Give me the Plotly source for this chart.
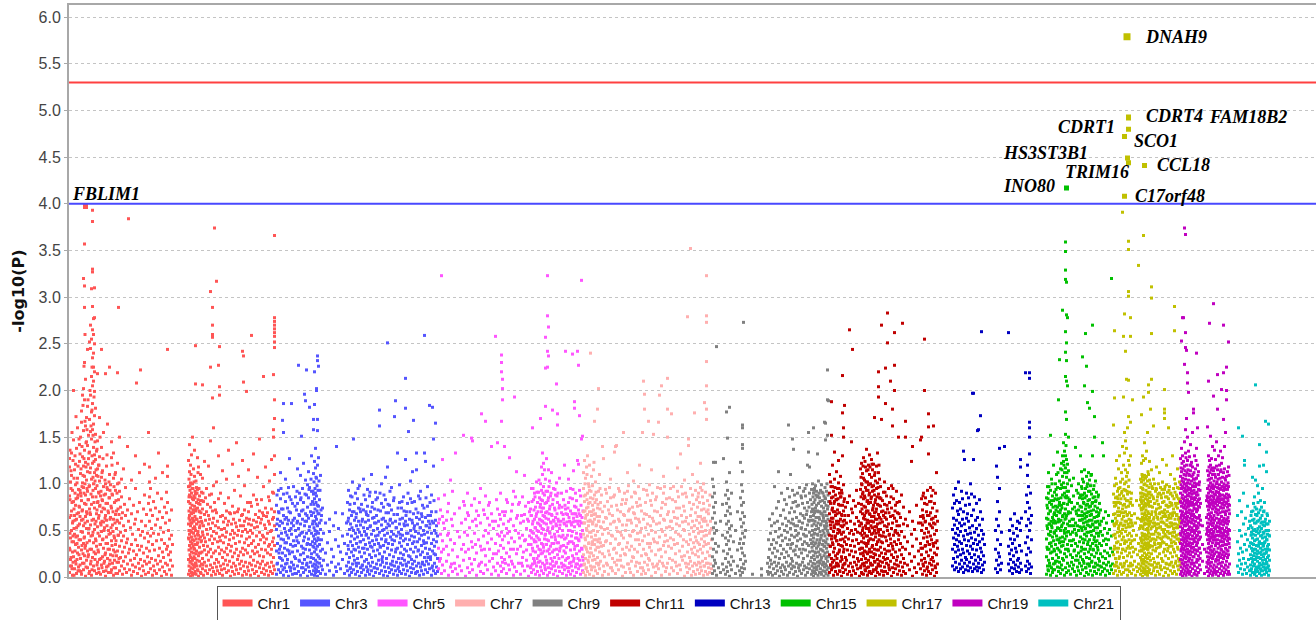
import plotly.graph_objects as go

# Genome-wide association scan: cumulative position (Mb) and -log10(P) per SNP,
# grouped per chromosome pair as (position, [-log10(P) values at that position]).
chr1 = [
    (0, [.05, .31, .64, .87, 1.18, 1.27]), (2, [.19, .42, 1.02]), (4, [.12, .5, .71, 1.09, 1.33]),
    (6, [.02, .27, .58, .93]), (8, [.22, .38, .81, 1.47, 2.0]), (10, [.09, .46, .66, 1.15]),
    (12, [.17, .35, .77, .99, 1.21]), (14, [.04, .53, .62, 1.38]), (16, [.26, .44, .85, 1.06, 1.6]),
    (18, [.11, .32, .69, .94]), (20, [.07, .57, .75, 1.24, 1.42]), (22, [.2, .4, .9, 1.11, 1.5]),
    (24, [.03, .29, .61, .82, 1.66, 1.78]), (26, [.15, .48, .72, 1.01, 1.29, 1.95]),
    (28, [.08, .36, .55, .96, 1.19, 1.57, 2.02, 3.2]),
    (30, [.23, .43, .79, 1.08, 1.36, 1.9, 2.3, 2.89, 3.12, 3.57]),
    (32, [.01, .34, .65, .88, 1.23, 1.62, 2.12]), (34, [.18, .52, .7, 1.04, 1.45, 1.71]),
    (36, [.1, .28, .6, .92, 1.13, 1.41, 1.83, 2.44]), (38, [.24, .47, .83, 1.27, 1.52]),
    (40, [.06, .39, .73, .98, 1.34, 1.69, 2.52]), (42, [.14, .56, .67, 1.17, 1.56, 1.95, 2.45, 2.7]),
    (44, [.02, .3, .78, 1.05, 1.48, 1.77, 2.15, 2.55, 3.09]),
    (46, [.21, .45, .86, 1.22, 1.58, 1.86, 2.05, 2.35, 2.65, 2.9, 3.27, 3.3, 3.81, 3.93]),
    (48, [.12, .37, .62, 1.0, 1.39, 1.64, 2.1, 2.25, 2.4, 2.6, 2.77]),
    (50, [.07, .51, .74, 1.12, 1.31, 1.73, 1.99, 2.2, 2.5, 2.78, 3.1]),
    (52, [.25, .41, .95, 1.26, 1.53, 1.81]), (54, [.04, .33, .68, 1.09, 1.35]),
    (56, [.16, .54, .8, 1.16, 1.46, 2.18]), (58, [.09, .27, .63, .91, 1.2]),
    (60, [.19, .44, .76, 1.03, 1.29, 1.71]), (62, [.03, .35, .58, .87]),
    (64, [.13, .49, .7, 1.07, 1.39, 2.44]), (66, [.22, .4, .82, 1.14]), (68, [.06, .31, .59, .97, 1.55]),
    (70, [.17, .53, .73]), (72, [.01, .26, .66, .89, 1.0, 2.18]), (74, [.11, .43, .61, 1.19]),
    (76, [.2, .36, .79, .94, 1.64]), (78, [.05, .5, .69]), (80, [.14, .3, .85, 1.1, 2.25]),
    (82, [.24, .47, .64, .99]), (84, [.08, .39, .74, 1.28, 1.45]), (86, [.15, .56, .88]),
    (88, [.02, .29, .62, 1.06, 1.33]), (90, [.18, .42, .8]), (92, [.1, .35, .67, .93, 1.12]),
    (94, [.23, .52, .71]), (96, [.04, .28, .6, 1.0, 1.22, 2.19]), (98, [.16, .45, .83, 2.89]),
    (100, [.07, .33, .58, .92, 1.5]), (102, [.21, .48, .75]), (104, [.12, .39, .63, .86, 1.05]),
    (106, [.03, .27, .69]), (108, [.17, .44, .55, 1.16]), (110, [.09, .32, .78]),
    (112, [.22, .5, .66, .96]), (114, [.05, .37]), (116, [.14, .41, .72, 1.4]), (118, [.26, .6, 3.84]),
    (120, [.08, .3, .84]), (122, [.18, .53]), (124, [.02, .35, .68, 1.04]), (126, [.13, .46]),
    (128, [.06, .28, .77]), (130, [.2, .57]), (132, [.11, .4, .62, .95, 1.3]), (134, [.24, 2.08]),
    (136, [.04, .34, .7]), (138, [.15, .51]), (140, [.09, .29, .8, 1.12]), (142, [.19, .45, 2.22]),
    (144, [.01, .33, .6]), (146, [.12, .49]), (148, [.07, .26, .73]), (150, [.17, .42, .88, 1.21]),
    (152, [.03, .55]), (154, [.14, .31, .67]), (156, [.22, .47]), (158, [.05, .38, .79, 1.55]),
    (160, [.16, .28, .6, .86, 1.02, 1.18]), (162, [.09, .44, .72, .95]), (164, [.2, .52]),
    (166, [.02, .35, .66]), (168, [.12, .47, .81]), (170, [.07, .29]), (172, [.18, .56, .74, 1.06]),
    (174, [.04, .39]), (176, [.14, .62, .9]), (178, [.23, .46, 1.33]), (180, [.08, .31, .7]),
    (182, [.17, .53]), (184, [.01, .4, .84]), (186, [.11, .27, .64, 1.12]), (188, [.21, .48]),
    (190, [.06, .36, .75]), (192, [.15, .58]), (194, [.03, .3, .69, .91]),
    (196, [.13, .33, .8, 1.08, 1.19, 2.44]), (198, [.24, .5]), (200, [.08, .41, .61]),
    (202, [.18, .27]), (204, [.02, .45, .72]), (206, [.12, .35]),
    (238, [.03, .19, .42, .57, .81, .97, 1.25]), (239, [.12, .29, .5, .71, 1.05]),
    (240, [.07, .34, .46, .66, .88, 1.13, 1.42]), (241, [.16, .24, .61, .79, .93]),
    (242, [.01, .21, .38, .55, .74, 1.01, 1.2]), (243, [.1, .31, .49, .86, 1.1]),
    (244, [.05, .27, .43, .68, .9, 1.31]), (245, [.14, .36, .58, .77]),
    (246, [.02, .18, .4, .63, .84, 1.0, 1.5]), (247, [.09, .33, .52, .72, .95]),
    (248, [.13, .26, .47, .69, .83, 1.16]), (249, [.04, .22, .39, .6, .87]),
    (250, [.11, .3, .54, .76, 1.08, 1.36]), (251, [.06, .2, .44, .65, .92]),
    (252, [.15, .35, .5, .71, .89, 2.07, 2.48]), (253, [.03, .25, .41, .62, 1.03]),
    (254, [.12, .28, .57, .8, .96]), (256, [.08, .37, .46, .74, .94, 1.28]),
    (258, [.01, .23, .45, .59, .79, 1.18]), (260, [.17, .32, .53, .7, .87]),
    (262, [.05, .26, .43, .64, .82, 1.1]), (264, [.14, .39, .6, .91]),
    (266, [.09, .2, .48, .73, 1.06, 2.06]), (268, [.02, .34, .55, .81]),
    (270, [.16, .29, .42, .67, 1.24]), (272, [.07, .38, .61, .85]), (274, [.12, .24, .51, .7, .95]),
    (276, [.04, .33, .46, .78]), (278, [.18, .27, .57, .66, 1.19]), (280, [.08, .4, .62, .88]),
    (282, [.13, .3, .52, .75, 1.46, 2.25, 3.06]), (284, [.02, .22, .44, .89]),
    (286, [.1, .36, .58, .71, 1.92, 2.57, 2.6, 2.7, 2.89]), (288, [.06, .26, .49, .63, .98, 1.6]),
    (290, [.15, .41, .8, 3.74]), (292, [.03, .28, .55, .72]), (294, [.11, .19, .47, .69, 1.02, 3.17]),
    (296, [.07, .38, .6]), (298, [.16, .32, .53, .84, 1.3, 2.27]), (300, [.04, .25, .43, 1.95, 2.04, 2.47]),
    (302, [.12, .39, .65, .9]), (304, [.08, .29, .51]), (306, [.02, .21, .45, .66, 1.14]),
    (308, [.14, .37, .59]), (310, [.09, .27, .52, .79]), (312, [.18, .43, .63]),
    (314, [.05, .31, .48, .71, 1.05]), (316, [.13, .24, .56]), (318, [.07, .35, .6, .85, 1.36]),
    (320, [.17, .4, .69]), (322, [.01, .28, .46, .68]), (324, [.11, .33, .57]),
    (326, [.06, .22, .5, .76, 1.21]), (328, [.15, .42, .62]), (330, [.03, .26, .47, .69, .93]),
    (332, [.12, .36, .58]), (334, [.08, .3, .54, 1.44]), (336, [.19, .45, .7]),
    (338, [.04, .23, .5, .73, 1.08]), (340, [.14, .38, .61]), (342, [.09, .27, .55, .87]),
    (344, [.17, .44, .66]), (346, [.02, .31, .49, .67, 1.25, 2.42]), (348, [.12, .24, .55, 2.09, 2.37]),
    (350, [.06, .37, .6, .72, .98]), (352, [.16, .29, .51]), (354, [.03, .41, .63, 1.99]),
    (356, [.11, .26, .48, .8]), (358, [.07, .34, .57, .7, 1.15]), (360, [.15, .43, .62]),
    (362, [.02, .22, .5, .8]), (364, [.13, .36, .56, .76, 2.59]), (366, [.08, .28, .47]),
    (368, [.18, .39, .61, .88, 1.32]), (370, [.04, .25, .53]), (372, [.12, .32, .67]),
    (374, [.06, .44, .59, .83]), (376, [.16, .27, .54, .78, 1.07]), (378, [.01, .35, .64]),
    (380, [.1, .23, .48, .71, 1.48]), (382, [.14, .4, .58]), (384, [.05, .3, .62, .83]),
    (386, [.17, .45, .69]), (388, [.09, .22, .43, .66, .97, 2.15]), (390, [.03, .37, .56]),
    (392, [.13, .29, .52, .74, 1.18]), (394, [.07, .41, .65]), (396, [.15, .26, .47, .69]),
    (398, [.02, .33, .6, .86]), (400, [.11, .35, .57, .82, 1.03]), (402, [.06, .24, .49]),
    (404, [.16, .3, .5, .73, 1.26]), (406, [.04, .38, .62, .91]),
    (408, [.12, .21, .42, .64, .9, 1.5, 1.58, 2.17]),
    (410, [.08, .34, .55, .7, 1.1, 1.3, 1.7, 1.9, 2.46, 2.52, 2.58, 2.62, 2.66, 2.7, 2.74, 2.78, 3.66]),
    (1, [.47, .12, .83, 1.36, .29]), (3, [.66, .95, .21, 1.14]), (5, [.38, .8, 1.55, .09]),
    (7, [.6, 1.25, .44, .16]), (9, [.73, .02, 1.06, .52]), (11, [.28, .9, 1.3, .61]),
    (13, [.84, .43, .14, 1.72]), (15, [.19, .68, 1.01, .36]), (17, [.55, .07, 1.19, .88]),
    (19, [.4, 1.48, .24, .76]), (21, [.65, .93, .13, 1.32]), (23, [.49, .06, .87, 1.16]),
    (25, [.71, .34, 1.4, .97]), (27, [.25, .62, 1.09, 1.84]), (29, [.9, .42, .15, 1.27, 2.26]),
    (31, [.58, 1.0, .31, 1.67, 2.6]), (33, [.78, .11, 1.44, 1.18]), (35, [.37, .95, .68, 1.58]),
    (37, [.83, .22, 1.21, 1.9]), (39, [.52, .04, .97, 1.33]), (41, [.69, 1.12, .3, 2.0]),
    (43, [.44, .89, 1.62, .17]), (45, [.61, 1.3, .08, 1.79, 2.25]), (47, [.93, .48, 1.52, 1.07]),
    (49, [.27, .8, 1.24, 1.93]), (51, [.57, 1.03, .19, 1.45]), (53, [.86, .39, 1.15, .6]),
    (55, [.13, .72, 1.37, .98]), (57, [.47, 1.08, .29, .81]), (59, [.66, .05, 1.2, .9]),
    (61, [.35, .77, 1.5]), (63, [.92, .2, .56]), (65, [.6, 1.12, .1, .83]), (67, [.41, .74, 1.27]),
    (69, [.88, .15, .5]), (71, [.24, .63, 1.04]), (73, [.79, .36, .07]), (75, [.55, .96, 1.31]),
    (77, [.3, .71, .12]), (79, [.85, .46, 1.02]), (81, [.18, .62, .93]), (83, [.53, .05, .76]),
    (85, [.34, .89, 1.2]), (87, [.7, .23, .49]), (89, [.97, .44, .1]), (91, [.27, .58, 1.1]),
    (93, [.82, .39, .04]), (95, [.61, .16, .9]), (97, [.45, .73]), (99, [.2, .67, 1.01]),
    (239, [.86, .41, .63]), (241, [.5, .07, .98]), (243, [.69, .17, .58]), (245, [.95, .48, .03]),
    (247, [.61, .2, .84]), (249, [.72, .31, 1.02]), (251, [.85, .52, .35]), (253, [.9, .15, .73]),
    (255, [.62, .18, .9, .35]), (257, [.49, .83, .07, 1.12]), (259, [.71, .26, .95, .41]),
    (261, [.55, .12, .78]), (263, [.38, .69, .04]), (265, [.82, .27, .58]), (267, [.45, .13, .9]),
]

chr3 = [
    (414, [.03, .28, .51, .77]), (416, [.15, .36, .62]), (418, [.08, .44, .7, .93]), (420, [.21, .3, .55]),
    (422, [.05, .33, .6, .84, 1.12]), (424, [.12, .47, .73]), (426, [.18, .26, .58, 1.68]),
    (428, [.02, .4, .66, .89, 1.55, 1.86]), (430, [.1, .31, .52]), (432, [.14, .23, .48, .81, 1.05]),
    (434, [.06, .37, .64]), (436, [.19, .29, .57, .74]), (438, [.01, .42, .61, .96]),
    (440, [.11, .25, .5, .86, 1.27]), (442, [.07, .35, .69]), (444, [.16, .46, .58, 1.86]),
    (446, [.03, .27, .79]), (448, [.13, .39, .55, .97]), (450, [.09, .22, .63]), (452, [.2, .34, .5, .86]),
    (454, [.04, .43, .72]), (456, [.12, .28, .6, .79, 1.16]), (458, [.06, .37, .52, 2.27]),
    (460, [.17, .45, .66, .9]), (462, [.02, .24, .57, .83, 1.09]), (464, [.1, .33, .71, 1.51]),
    (466, [.15, .48, .62, .95]), (468, [.05, .26, .39, .8, 1.22]), (470, [.19, .43, .55, 1.96]),
    (472, [.08, .3, .68, 1.04, 1.89]), (474, [.13, .47, .6, .88, 2.22]), (476, [.01, .22, .36, .75, .99]),
    (478, [.11, .41, .63, .85, 1.13]), (480, [.06, .29, .54, .96, 1.82]), (482, [.16, .35, .7]),
    (484, [.03, .25, .47, .66, .92, 1.3]), (486, [.12, .38, .57, .81]),
    (488, [.07, .2, .44, .69, .89, 1.11, 1.58, 1.69]), (489, [.14, .32, .53, .78, 1.02]),
    (490, [.02, .27, .41, .6, .84, 1.24, 1.85, 2.2]), (491, [.1, .36, .5, .73, .95]),
    (492, [.05, .18, .46, .65, .9, 1.17, 1.38]), (493, [.13, .3, .57, .8, 1.07]),
    (494, [.08, .39, .62, .87, 1.06, 2.0, 2.02]), (495, [.16, .24, .49, .71, .98]),
    (496, [.01, .33, .55, .77, 1.2, 1.57, 1.69, 2.32, 2.37]), (497, [.11, .42, .68, .93]),
    (498, [.06, .22, .47, .76, 1.28, 2.26]), (500, [.15, .35, .58, .83]), (502, [.04, .28, .51, 1.09]),
    (504, [.12, .4, .66]), (506, [.08, .3, .74]), (508, [.18, .47]), (512, [.03, .26, .58]),
    (516, [.13, .37]), (520, [.07, .49, .62]), (524, [.16, .3]), (528, [.02, .22, .55]),
    (532, [.11, .4, .69]), (534, [.06, 1.4]), (538, [.14, .33, .52]), (542, [.09, .27]),
    (546, [.19, .44, .68]), (550, [.04, .36]), (554, [.12, .25, .58]), (556, [.07, .46, .8]),
    (558, [.16, .3, .63, .93]), (560, [.02, .21, .51, .72]), (562, [.1, .38, .57, .87]),
    (564, [.05, .27, .44, .66]), (566, [.14, .34, .7, 1.02]), (568, [.08, .23, .5, 1.48]),
    (570, [.18, .41, .61, .79]), (572, [.03, .29, .47, .9]), (574, [.12, .36, .55, .68]),
    (576, [.06, .2, .43, .84]), (578, [.15, .32, .6, .74]), (580, [.01, .27, .48, .98]),
    (582, [.1, .38, .56, .7]), (584, [.05, .22, .45, .78]), (586, [.13, .31, .62]),
    (588, [.08, .4, .53, .72, 1.05]), (590, [.17, .26, .49]), (592, [.02, .35, .59, .83]),
    (594, [.11, .19, .46, .67]), (596, [.06, .3, .52, .76, .94]), (598, [.15, .42, .61]),
    (600, [.03, .24, .37, .87]), (602, [.12, .33, .55, .7]), (604, [.07, .21, .46, 1.1]),
    (606, [.16, .39, .63, .8]), (608, [.01, .28, .5]), (610, [.1, .35, .58, .73]),
    (612, [.05, .23, .44, .91]), (614, [.14, .4, .66]), (616, [.09, .29, .52, .85]), (618, [.18, .36, .6]),
    (620, [.04, .25, .48, 1.62, 1.79]), (622, [.13, .32, .71]), (624, [.07, .41, .56, .79, 1.0]),
    (626, [.16, .22, .5]), (628, [.02, .34, .63, .75]), (630, [.11, .27, .45]),
    (632, [.06, .38, .6, .83, 1.07]), (634, [.15, .2, .53]), (636, [.01, .31, .47, 1.18, 2.51]),
    (638, [.1, .36, .69]), (640, [.05, .24, .55, .77]), (642, [.14, .43, .62]),
    (644, [.08, .29, .49, .72, .96]), (646, [.17, .35, .58]), (648, [.03, .22, .46, .82]),
    (650, [.12, .39, 1.72]), (652, [.07, .27, .6, 1.89]), (654, [.16, .44, .53]),
    (656, [.02, .31, .67, 1.33]), (658, [.11, .2, .48]), (660, [.06, .37, .57, .8, .99]),
    (662, [.15, .26, .42]), (664, [.04, .33, .51, .74]), (666, [.13, .45, .63]),
    (668, [.08, .24, .39, .86]), (670, [.18, .3, .55]), (672, [.03, .41, .6, 1.26, 1.81, 2.13]),
    (674, [.12, .28, .47, .7]), (676, [.07, .35, .56, .79]), (678, [.16, .23, 1.56]), (680, [.01, .4, .62]),
    (682, [.1, .3, .5, .84, 1.03]), (684, [.05, .19, .44]), (686, [.14, .36, .58, 1.13]),
    (688, [.09, .27, .68, 1.68]), (690, [.17, .43, .55, .81]), (692, [.04, .32, .49]),
    (694, [.12, .22, .64, 1.15, 1.33]), (696, [.06, .38, .57]), (698, [.15, .29, .47, .87]),
    (700, [.02, .41, .62]), (702, [.11, .24, .53, .92]), (704, [.07, .34, .45, .68]),
    (706, [.16, .27, .59, .77]), (708, [.03, .39, .5]), (710, [.13, .21, .46, 1.33, 2.59]),
    (712, [.08, .31, .64, 1.24]), (714, [.17, .37, .55]), (716, [.05, .25, .48, .76, .97]),
    (718, [.14, .42, .6]), (720, [.09, .3, .53, 1.84]), (722, [.19, .22, .66]),
    (724, [.02, .36, .47, .7, .88]), (726, [.12, .28, 1.82]), (728, [.07, .4, .58, 1.19, 1.48]),
    (730, [.15, .33, .5]), (732, [.04, .24, .61, 1.65]), (734, [.11, .38, .55]), (736, [.06, .2, .44]),
    (415, [.57, .14, .88]), (419, [.26, .69]), (423, [.41, .95, .2]), (427, [.73, .08]), (431, [.62, .37]),
    (435, [.9, .45, .15]), (439, [.28, .7]), (443, [.52, .1, .83]), (447, [.61, .33]), (451, [.76, .04]),
    (455, [.39, .92, .58]), (459, [.67, .18]), (463, [.47, .85]), (467, [.72, .1, .31]), (471, [.89, .6]),
    (475, [.35, .66, .15]), (479, [.5, .94]), (483, [.78, .21, 1.05]), (487, [.6, .92, .33]),
    (499, [.68, .4, 1.03]), (501, [.93, .2]), (503, [.61, .72]),
    (557, [.6, .34]), (561, [.78, .09]), (565, [.53, .86]), (569, [.3, .7]), (573, [.64, .15]),
    (577, [.51, .95]), (581, [.73, .38]), (585, [.6, .12]), (589, [.88, .31]), (593, [.45, .7]),
    (597, [.66, .08]), (601, [.54, .91]), (605, [.75, .32]), (609, [.64, .1]), (613, [.58, .83]),
    (617, [.72, .45]), (621, [.33, .9]), (625, [.62, .19]), (629, [.51, .88]), (633, [.69, .4]),
    (637, [.78, .57]), (641, [.61, .92]), (645, [.4, .13]), (649, [.67, .85]), (653, [.53, .3]),
    (657, [.74, .09]), (661, [.62, .46]), (665, [.81, .2]), (669, [.57, .71]), (673, [.66, .14]),
    (677, [.9, .47]), (681, [.7, .22]), (685, [.61, .8]), (689, [.52, .38]), (693, [.73, .05]),
    (697, [.69, .28]), (701, [.53, .84]), (705, [.65, .14]), (709, [.74, .36]), (713, [.85, .55]),
    (717, [.66, .21]), (721, [.57, .8]), (725, [.6, .1]), (729, [.82, .25]), (733, [.7, .47]),
]

chr5 = [
    (738, [.09, .31, .58, .84]), (742, [.2, .46, .72]), (744, [.04, .27, 3.23]),
    (746, [.13, .39, .65, 1.26]), (750, [.07, .52, .88]), (754, [.17, .33, .61]),
    (758, [.02, .24, .47, .79]), (762, [.11, .4, 1.04]), (766, [.06, .29, .55, .92]),
    (770, [.15, .36, .68]), (772, [.09, 1.33]), (776, [.03, .22, .49]), (780, [.12, .43, .74]),
    (784, [.07, .3, .58]), (788, [.18, .35, .81, 1.52]), (792, [.01, .27, .62]),
    (796, [.1, .45, .69, .9]), (800, [.05, .2, .53]), (804, [.14, .38, .77, 1.49]),
    (806, [.08, .32, .6, 1.46]), (810, [.19, .47, .84]), (814, [.02, .26, .55, .71]),
    (818, [.12, .4, .66]), (822, [.06, .33, .58, .95]), (824, [.16, .29, 1.75]), (828, [.04, .44, .72]),
    (832, [.13, .23, .5, .87, 1.67]), (836, [.08, .37, .63]), (840, [.17, .3, .56, .8]),
    (844, [.03, .41, .68, 1.4]), (848, [.11, .25, .52]), (852, [.07, .36, .6, 2.58]),
    (856, [.15, .46, .73, 1.44]), (858, [.02, .28, .55]), (862, [.12, .34, .62, .9]),
    (864, [.06, .21, .48, 1.67, 2.2, 2.3, 2.38]), (866, [.16, .4, .7, 1.9, 2.02, 2.12]),
    (868, [.09, .31, .57]), (870, [.19, .44, .66, 1.4]), (874, [.04, .26, .52, .83]),
    (878, [.13, .37, .6]), (880, [.08, .22, .49, 1.28]), (884, [.17, .42, .71]),
    (888, [.02, .3, .55, .92]), (890, [.11, .38, 1.93]), (894, [.06, .25, .63, 1.13]),
    (898, [.15, .47, .78]), (902, [.03, .33, .58]), (906, [.12, .21, .45, .86]),
    (910, [.07, .39, .67, 1.09]), (914, [.18, .29, .52]), (918, [.01, .35, .6, .8]),
    (922, [.1, .24, .5, .73]), (924, [.05, .42, .66, .95]), (926, [.14, .31, .57, 1.6]),
    (928, [.08, .2, .47, .83]), (930, [.17, .38, .62, .9]), (932, [.03, .27, .53, .75]),
    (934, [.12, .44, .68, 1.02]), (936, [.06, .33, .58, .8]), (938, [.16, .23, .49, .91]),
    (940, [.02, .4, .62, .85]), (942, [.11, .29, .55, .78, 1.0, 1.7]),
    (944, [.07, .36, .47, .7, .93, 1.18]), (946, [.15, .26, .6, .82, 1.1, 1.33]),
    (948, [.04, .32, .51, .74, .97, 1.22]), (950, [.13, .41, .65, .88, 1.15]),
    (952, [.08, .22, .46, .69, 1.05, 1.83, 2.24, 2.57]), (954, [.18, .35, .57, .8, 1.27]),
    (956, [.02, .28, .5, .92, 2.25, 2.42, 2.8, 3.23]), (958, [.1, .39, .62, .85, 1.15, 2.37, 2.68]),
    (960, [.05, .25, .48, .73, 1.03]), (962, [.14, .33, .59, .87]), (964, [.09, .43, .67, 1.12]),
    (966, [.17, .27, .52, .78, 1.79]), (968, [.03, .36, .61, .95]), (970, [.12, .21, .46, .74]),
    (972, [.07, .4, .64, .88]), (974, [.16, .3, .55, 1.01, 2.07]), (976, [.01, .24, .49, .8, 1.63, 1.75]),
    (978, [.11, .37, .6]), (980, [.06, .28, .52, .77, 1.06]), (984, [.15, .43, .69, .9]),
    (986, [.04, .22, .5]), (988, [.13, .34, .62, .83]), (990, [.08, .41, .57, 1.2]),
    (992, [.18, .26, .73, 2.42]), (994, [.02, .32, .55, .92]), (996, [.1, .45, .67]),
    (998, [.06, .21, .5, .8, 1.05]), (1000, [.15, .38, .6]), (1002, [.03, .29, .71, .95]),
    (1004, [.12, .44, .56]), (1006, [.07, .23, .49, .84, 2.39]), (1008, [.17, .36, .63, 1.14]),
    (1010, [.01, .3, .54, .76, 1.81, 1.88]), (1012, [.11, .42, .68, .9]), (1014, [.05, .25, .47, .82]),
    (1016, [.14, .34, .6, 1.25, 2.42]), (1018, [.09, .4, .72, 1.21, 2.27]),
    (1020, [.18, .28, .55, .93, 1.73]), (1022, [.03, .46, .66, .87]),
    (1024, [.13, .31, .58, 1.48, 3.18]), (1026, [.07, .22, .5, 1.51]),
    (740, [.62, .17]), (748, [.58, .3]), (756, [.7, .45]), (764, [.62, .14]), (790, [.48, .77]),
    (798, [.66, .3]), (812, [.62, .35]), (820, [.8, .14]), (830, [.67, .3]), (838, [.77, .47]),
    (846, [.6, .2]), (854, [.83, .25]), (860, [.67, .44]), (872, [.7, .15]), (876, [.8, .47]),
    (882, [.62, .3]), (886, [.78, .14]), (892, [.5, .86]), (896, [.66, .3]), (900, [.8, .42]),
    (904, [.66, .15]), (908, [.6, .27]), (912, [.76, .4]), (916, [.62, .12]), (920, [.7, .44]),
    (923, [.66, .35, .12]), (925, [.81, .48]), (927, [.6, .28, .95]), (929, [.72, .4]),
    (931, [.53, .15, .86]), (933, [.65, .38]), (935, [.91, .5, .2]), (937, [.7, .42]),
    (939, [.57, .3, 1.04]), (941, [.75, .17]), (943, [.61, .83, .25]), (945, [.52, .74]),
    (947, [.66, .35, .9]), (949, [.58, .28]), (951, [.79, .45, .1]), (953, [.63, .92]),
    (955, [.7, .4, .15]), (957, [.53, .82]), (959, [.68, .3, .97]), (961, [.76, .47]),
    (963, [.58, .2, .9]), (965, [.66, .36]), (967, [.83, .54, .12]), (969, [.6, .29]),
    (971, [.72, .43, .94]), (973, [.57, .15]), (975, [.68, .37, .87]), (977, [.62, .9]),
    (979, [.74, .44, .2]), (981, [.56, .31]), (983, [.6, .33]), (985, [.75, .11]), (987, [.67, .45]),
    (989, [.58, .28]), (991, [.77, .12]), (993, [.68, .42]), (995, [.59, .2]), (997, [.74, .36]),
    (999, [.64, .1]), (1001, [.85, .5]), (1003, [.58, .16]), (1005, [.68, .38]), (1007, [.59, .94]),
    (1009, [.68, .2]), (1011, [.6, .33]), (1013, [.75, .14]), (1015, [.65, .42]), (1017, [.57, .2]),
    (1019, [.68, .39]), (1021, [.6, .12]), (1023, [.77, .43]), (1025, [.64, .3]), (1027, [.71, .18]),
]

chr7 = [
    (1028, [.05, .24, .46, .7, .95, 1.12]), (1030, [.14, .33, .58, .81, 1.25]),
    (1032, [.02, .2, .4, .63, .88, 1.06]), (1034, [.1, .3, .52, .74, 1.18]),
    (1036, [.06, .27, .44, .67, .9, 1.3]), (1038, [.16, .36, .55, .79, 1.0]),
    (1040, [.03, .22, .48, .7, .93, 1.2]), (1042, [.12, .31, .6, .85, 2.4]),
    (1044, [.08, .26, .43, .66, 1.08]), (1046, [.18, .38, .57, .77, .98]),
    (1048, [.01, .23, .5, .72, 1.15]), (1050, [.11, .35, .62, .88, 1.67]),
    (1052, [.07, .29, .45, .68, 1.02]), (1054, [.15, .4, .56, .83]), (1056, [.04, .21, .49, .74, 1.8]),
    (1058, [.13, .32, .6, .92, 2.02]), (1060, [.09, .27, .41, .65, 1.1]), (1062, [.17, .37, .54, .8]),
    (1066, [.02, .25, .46, .7, 1.4]), (1068, [.12, .34, .59, 1.27]), (1070, [.06, .22, .51, .76]),
    (1074, [.15, .39, .63, .9]), (1078, [.03, .28, .47, .72]), (1082, [.1, .36, .57, .85, 1.05]),
    (1086, [.07, .2, .44, .66]), (1090, [.16, .31, .6, .88, 1.34]), (1092, [.04, .41, 1.4]),
    (1094, [.13, .26, .53, .77, 1.41]), (1098, [.08, .35, .62, .95]), (1102, [.18, .23, .48, .7]),
    (1106, [.01, .3, .56, .83]), (1108, [.11, .42, .67, 1.55]), (1112, [.05, .24, .5, .79]),
    (1116, [.14, .37, .61, .92, 1.12]), (1120, [.09, .29, .45, .73]), (1124, [.17, .33, .58, .86]),
    (1128, [.02, .21, .5, .69, 1.03]), (1132, [.12, .4, .63, .9]), (1136, [.06, .27, .47, .76]),
    (1140, [.15, .35, .59, .84, 1.2]), (1144, [.03, .23, .52, .71]), (1146, [.1, .39, 1.55]),
    (1148, [.07, .3, .62, .94, 2.1]), (1150, [.16, .44, .68, 1.8, 1.96]), (1152, [.04, .25, .53, .8]),
    (1156, [.13, .36, .57, .88]), (1158, [.08, .2, .46, 1.67]), (1160, [.18, .32, .65, .99]),
    (1164, [.01, .28, .5, .77, 1.15]), (1168, [.11, .41, .6, 1.53]), (1172, [.05, .24, .48, .83]),
    (1176, [.14, .37, .7, .96]), (1178, [.09, .29, 1.66]), (1180, [.17, .43, .58, 1.95]),
    (1184, [.02, .22, .51, .74, 2.05]), (1188, [.12, .34, .62, .9, 1.08]), (1192, [.06, .27, .45, .78]),
    (1196, [.15, .39, .67, 1.5, 1.8, 2.13]), (1200, [.03, .2, .54, .85]), (1204, [.1, .31, .6, 1.75]),
    (1208, [.07, .4, .7, .97]), (1212, [.16, .25, .48, .81]), (1216, [.04, .36, .63, .92, 1.17]),
    (1220, [.13, .28, .55, .74]), (1222, [.08, .44, 1.32]), (1226, [.18, .33, .59, .89]),
    (1230, [.01, .23, .5, .71, 1.04]), (1234, [.11, .38, .64, .86]), (1236, [.05, .27, 2.79]),
    (1238, [.14, .35, .57, 1.41, 1.48]), (1240, [.09, .21, .46, .8]), (1242, [.17, .4, .66, .95, 3.52]),
    (1244, [.02, .3, .53, .73]), (1246, [.12, .26, .6, .88, 1.1]), (1248, [.06, .37, .49, .78]),
    (1250, [.15, .32, .55, 1.76]), (1252, [.03, .24, .43, .69, .93]), (1254, [.13, .39, .61, .83]),
    (1256, [.08, .28, .52, .75, 1.02]), (1258, [.16, .22, .47, .9]), (1260, [.04, .35, .58, .8]),
    (1262, [.11, .3, .65, .96, 1.22]), (1264, [.07, .41, .54, .72]), (1266, [.17, .26, .49, .86]),
    (1268, [.02, .33, .6, .79, 1.0]), (1270, [.12, .38, .63, 1.87]), (1272, [.06, .2, .5, .91]),
    (1274, [.15, .45, .7, 1.69, 1.8, 2.05, 2.31, 2.73, 2.8, 3.23]), (1276, [.03, .27, .56, .82]),
    (1278, [.1, .36, .68]), (1280, [.05, .23, .47, .77]), (1282, [.14, .31, .6]), (1284, [.09, .4, .52]),
    (1029, [.58, .13, .87]), (1031, [.42, .71, 1.0]), (1033, [.66, .09, .32]), (1035, [.5, .83, 1.1]),
    (1037, [.75, .18, .6]), (1039, [.37, .97]), (1041, [.61, .26, .8]), (1043, [.48, .92]),
    (1045, [.7, .11, .35]), (1047, [.59, .84]), (1049, [.4, .67, 1.23]), (1051, [.8, .19]),
    (1053, [.55, .91]), (1055, [.65, .32]), (1057, [.38, .78]), (1059, [.6, .15]), (1061, [.73, .95]),
    (1064, [.53, .33, .88]), (1072, [.64, .38, .94]), (1076, [.52, .13, .81]), (1080, [.68, .24, .96]),
    (1084, [.45, .76, .1]), (1088, [.59, .3, .86]), (1096, [.72, .18, .49]), (1100, [.6, .92, .36]),
    (1104, [.45, .78, .12]), (1110, [.66, .25, .9]), (1114, [.56, .32, .83]), (1118, [.71, .14, .98]),
    (1122, [.61, .44, .05]), (1126, [.49, .75, .22]), (1130, [.68, .3, .91]), (1134, [.55, .16, .8]),
    (1138, [.62, .4, .97]), (1142, [.48, .77, .1]), (1154, [.67, .24, .93]), (1162, [.55, .36, .82]),
    (1166, [.63, .14, .9]), (1170, [.71, .38]), (1174, [.57, .12, .86]), (1182, [.66, .3, .95]),
    (1186, [.49, .8, .15]), (1190, [.61, .38, .97]), (1194, [.53, .1, .84]), (1198, [.7, .33]),
    (1202, [.6, .42, .95]), (1206, [.52, .18, .83]), (1210, [.64, .35]), (1214, [.74, .12, .57]),
    (1218, [.46, .86]), (1224, [.66, .22, .97]), (1228, [.51, .4, .76]), (1232, [.6, .15, .9]),
    (1257, [.65, .37, .86]), (1261, [.49, .15]), (1265, [.62, .93]), (1269, [.44, .73, .12]),
    (1273, [.6, .35]), (1277, [.72, .15]), (1281, [.5, .88]),
]

chr9 = [
    (1286, [.04, .22, .41, .63, .86, 1.05]), (1288, [.12, .3, .53, .75, .97, 1.23]),
    (1290, [.07, .18, .47, .69, .9]), (1292, [.15, .36, .58, .8, 1.23]), (1294, [.02, .27, .5, 2.47]),
    (1298, [.1, .33]), (1302, [.05, .6]), (1306, [.14, .45, .78]), (1308, [.08, .28, 1.27]),
    (1312, [.03, .2, .42, .66, .88]), (1314, [.11, .35, .57, .79, 1.02, 1.77]),
    (1316, [.06, .25, .48, .71, .93, 1.49]), (1318, [.16, .39, .6, .84]),
    (1320, [.01, .3, .52, .75, 1.12, 1.82]), (1322, [.13, .44, .68]), (1324, [.08, .22, .55, .9]),
    (1328, [.17, .38]), (1332, [.04, .5]), (1336, [.12, .29, .7]), (1340, [.07, .36]),
    (1342, [.02, .19, .41, .62, .85, 1.23]), (1344, [.1, .31, .54, .77, .99]),
    (1346, [.05, .26, .47, .69, .92, 1.13, 1.38, 1.42, 1.6, 1.63]), (1348, [.14, .36, .58, .8, 2.73]),
    (1350, [.09, .23, .43, .65]), (1352, [.17, .5]), (1366, [.03]), (1384, [.02, .09]), (1396, [.06, .15]),
    (1398, [.03, .21, .4]), (1400, [.11, .3, .62]), (1402, [.05, .18, .47]), (1404, [.14, .35, .55]),
    (1406, [.02, .26, .68]), (1408, [.09, .4]), (1410, [.16, .31, .58, .97]), (1412, [.04, .22, .49]),
    (1414, [.12, .37, .74]), (1416, [.07, .28, .6]), (1418, [.15, .43, .81, 1.13]), (1420, [.01, .2, .52]),
    (1422, [.1, .34, .66]), (1424, [.06, .25, .45, .9]), (1426, [.13, .39, .57]), (1428, [.03, .3, .72]),
    (1430, [.11, .21, .5, .83]), (1432, [.08, .42, .63]), (1434, [.16, .27, .55, .78]),
    (1436, [.02, .35, .48, .95]), (1438, [.12, .23, .6, 1.63]), (1440, [.05, .4, .69, .86]),
    (1442, [.14, .31, .52, 1.1]), (1444, [.09, .2, .45, .74]), (1446, [.17, .36, .62, .93, 1.48]),
    (1448, [.03, .28, .57, 1.37]), (1450, [.11, .43, .7, .88]), (1452, [.06, .24, .5, .81]),
    (1454, [.15, .33, .64]), (1456, [.01, .39, .55, .9]), (1458, [.1, .22, .47, .77]),
    (1460, [.07, .3, .6, .96]), (1462, [.13, .41, .68]), (1464, [.04, .26, .53, .85]),
    (1466, [.16, .35, .58, .79]), (1468, [.08, .2, .46, .92]), (1470, [.12, .38, .63, .74]),
    (1472, [.02, .29, .51, .87]), (1474, [.1, .44, .67, .99]), (1476, [.05, .23, .56, .8, 1.2]),
    (1478, [.14, .34, .61, 1.34, 1.55]), (1480, [.09, .27, .48, .9, 1.18]), (1482, [.17, .4, .65, .83]),
    (1484, [.03, .21, .45, .7, .94]), (1485, [.12, .32, .55, .78]), (1486, [.07, .28, .5, .73, 1.0]),
    (1487, [.15, .38, .61, .86]), (1488, [.01, .23, .42, .66, .9, 1.6]), (1489, [.1, .34, .57, .8]),
    (1490, [.06, .19, .47, .69, .95]), (1491, [.14, .36, .6, .83]), (1492, [.04, .26, .51, .74, .98]),
    (1494, [.11, .31, .55, .77, .92]), (1495, [.08, .4, .64]), (1496, [.16, .22, .46, .71, 1.32]),
    (1497, [.02, .33, .58, .87]), (1498, [.12, .27, .52, .79, 1.03]), (1500, [.05, .37, .62, .85]),
    (1501, [.15, .24, .49, .7]), (1502, [.09, .3, .56, .93]), (1503, [.18, .42, .68]),
    (1504, [.03, .21, .45, .76, .99]), (1506, [.13, .35, .6, .82]), (1507, [.07, .28, .5, .9]),
    (1508, [.16, .39, .63, .74]), (1509, [.01, .23, .47, .87]), (1510, [.11, .33, .55, .8, 1.66]),
    (1511, [.06, .26, .44, .7, .96]), (1512, [.14, .38, .6, .84, 1.47, 1.65]), (1513, [.04, .2, .52, .77]),
    (1514, [.12, .31, .58, .92]), (1515, [.08, .41, .66, 1.0]), (1516, [.17, .27, .5, .73, 1.52, 1.9, 2.22]),
    (1517, [.02, .35, .62, .88]), (1518, [.1, .22, .46, .81, 1.89]),
    (1443, [.58, .35]), (1447, [.8, .12]), (1451, [.55, .29]), (1455, [.76, .45]), (1459, [.6, .13]),
    (1463, [.87, .52]), (1467, [.66, .3]), (1471, [.44, .95]), (1475, [.71, .36]), (1479, [.6, .75]),
    (1484, [.61, .36]), (1487, [.05, .72]), (1489, [.46, .93]), (1491, [.27, .71]),
    (1493, [.64, .37, .09, .88]), (1495, [.22, .86]), (1497, [.45, .7]), (1499, [.64, .35, .9, .17]),
    (1501, [.81, .4]), (1503, [.57, .05]), (1505, [.68, .29, .91]), (1507, [.66, .14]), (1509, [.7, .33]),
    (1511, [.85, .52]), (1513, [.66, .37]), (1515, [.55, .22]), (1517, [.76, .47]),
]

chr11 = [
    (1520, [.05, .24, .45, .68, .9, 1.1]), (1522, [.13, .33, .56, .79, 1.02]),
    (1524, [.08, .2, .41, .63, .85, 1.52, 1.88]), (1526, [.16, .37, .59, .74, .97, 1.2]),
    (1528, [.02, .27, .49, .7, .92]), (1530, [.11, .31, .53, .81, 1.05, 1.34]),
    (1532, [.06, .23, .44, .66, .88]), (1534, [.15, .39, .6, .83, 1.13]),
    (1536, [.03, .25, .47, .72, .95]), (1538, [.12, .35, .57, .78, 1.01, 1.25]),
    (1540, [.07, .29, .5, .69, .9]), (1542, [.17, .4, .62, .86, 1.08]), (1544, [.01, .22, .46, .67, .93]),
    (1546, [.1, .33, .54, .77, 1.3, 1.76, 2.16]), (1548, [.05, .27, .48, .71, .99, 1.5, 1.6]),
    (1550, [.14, .38, .61, .84, 1.84]), (1552, [.08, .21, .43, .75]), (1554, [.18, .35, .58]),
    (1556, [.03, .29, .52, .8]), (1558, [.12, .41, .66]), (1560, [.06, .24, .47, .87, 2.65]),
    (1562, [.15, .34, .6]), (1564, [.02, .28, .5, .73, 1.45]), (1566, [.11, .39, .69, 2.44]),
    (1568, [.07, .22, .46, .82]), (1570, [.16, .33, .57]), (1572, [.04, .27, .51, .76]),
    (1574, [.13, .4, .64, .93]), (1576, [.09, .2, .48]), (1578, [.17, .36, .6, .79]), (1580, [.01, .3, .55]),
    (1582, [.1, .25, .47, .7, .94, 1.16]), (1584, [.05, .19, .38, .57, .78, 1.0, 1.22]),
    (1586, [.14, .31, .5, .68, .89, 1.11]), (1588, [.03, .23, .42, .63, .84, 1.06, 1.28]),
    (1590, [.12, .28, .47, .66, .87, 1.04]), (1592, [.07, .2, .36, .55, .75, .96, 1.18]),
    (1594, [.16, .33, .52, .71, .93, 1.14, 1.37]), (1596, [.02, .25, .44, .61, .82, 1.02]),
    (1598, [.11, .18, .39, .58, .79, .99, 1.2]), (1600, [.06, .3, .49, .68, .9, 1.1, 1.31]),
    (1602, [.15, .22, .41, .6, .8, 1.0]), (1604, [.04, .27, .46, .65, .86, 1.07, 1.26]),
    (1606, [.13, .34, .53, .72, .92, 1.15]), (1608, [.08, .21, .4, .59, .77, .98, 1.21]),
    (1610, [.17, .3, .5, .69, .88, 1.09, 1.71]), (1612, [.01, .24, .43, .62, .83, 1.03]),
    (1614, [.1, .35, .54, .73, .95, 1.19]), (1616, [.05, .19, .38, .57, .78, 1.01, 1.33]),
    (1618, [.14, .29, .48, .67, .89, 1.12, 1.93, 2.04, 2.2]), (1620, [.03, .23, .45, .64, .85, 1.05]),
    (1622, [.12, .32, .51, .76, .97]), (1624, [.07, .26, .44, .7, 1.69, 2.7]),
    (1626, [.16, .37, .59, .82]), (1628, [.02, .21, .48, .66, .91]), (1630, [.11, .3, .55, .78, 1.02]),
    (1632, [.06, .25, .43, .69, 1.86, 2.24]), (1634, [.15, .39, .62, .87]),
    (1636, [.04, .2, .5, .73, 2.51, 2.83]), (1638, [.13, .34, .57, .95]), (1640, [.08, .28, .46, .8]),
    (1642, [.17, .41, .65, 2.1]), (1644, [.01, .24, .52, .74, .98]), (1646, [.1, .33, .58, 1.62, 1.8]),
    (1648, [.05, .21, .45, .84]), (1650, [.14, .38, .63, 2.0, 2.27, 2.62]), (1652, [.09, .27, .5, .77]),
    (1654, [.18, .35, .6, .92]), (1656, [.03, .22, .47, .69]), (1658, [.12, .4, 1.5]),
    (1660, [.07, .29, .55, .81]), (1662, [.16, .36, .64]), (1664, [.02, .24, .49, .88]),
    (1666, [.11, .32, 2.72]), (1668, [.06, .2, .57, .75]), (1670, [.15, .43]),
    (1672, [.04, .3, .62, 1.5, 1.67]), (1676, [.13, .38, .55]), (1680, [.08, .25, .7]),
    (1684, [.17, .46, 1.24]), (1686, [.01, .33, .6, 1.4]), (1690, [.1, .22, .51]), (1694, [.05, .41, .77]),
    (1698, [.14, .28, .58]), (1702, [.09, .36, .65, 1.47]), (1704, [.18, .24, .5, .84, 1.5]),
    (1706, [.03, .31, .56, .72]), (1708, [.12, .42, .63, .9]), (1710, [.07, .2, .47, .79, 2.0, 2.55]),
    (1712, [.16, .34, .6, .85]), (1714, [.02, .27, .52, .7]), (1716, [.11, .38, .66, .93]),
    (1718, [.06, .23, .48, 1.32, 1.61, 1.75]), (1720, [.15, .35, .57, .81]),
    (1722, [.04, .29, .44, .69, .96]), (1724, [.13, .4, .62, .87]), (1726, [.08, .21, .53, .74]),
    (1728, [.17, .33, .58, 1.62]), (1730, [.01, .26, .46, .79]), (1732, [.1, .37, .65, .9]),
    (1734, [.05, .24, .5, 1.12]), (1736, [.14, .31, .6]),
    (1521, [.6, .33, .81]), (1523, [.52, .13, .97]), (1525, [.72, .44, .1]), (1527, [.63, .35, .86]),
    (1529, [.55, .18, .79]), (1531, [.7, .42, .96]), (1533, [.57, .12, .83]), (1535, [.68, .39, .2]),
    (1537, [.84, .51, .14]), (1539, [.6, .27, .95]), (1541, [.77, .48, .06]), (1543, [.55, .34, .86]),
    (1545, [.66, .19, .9]), (1547, [.6, .41, .13]), (1549, [.81, .3, .56]), (1551, [.66, .15]),
    (1583, [.58, .31, .86, .12, 1.07]), (1585, [.73, .45, .04, .99]), (1587, [.53, .26, .91, 1.19]),
    (1589, [.76, .37, .15]), (1591, [.62, .08, .85, 1.24]), (1593, [.44, .69, .27, 1.02]),
    (1595, [.81, .58, .1]), (1597, [.36, .71, .93, 1.15]), (1599, [.52, .27, .05, .88]),
    (1601, [.67, .41, 1.18]), (1603, [.84, .55, .13]), (1605, [.6, .32, .97, 1.21]),
    (1607, [.47, .74, .06]), (1609, [.65, .25, .93]), (1611, [.54, .8, .16, 1.12]),
    (1613, [.7, .47, .08]), (1615, [.86, .29, .62]), (1617, [.51, .12, .96]), (1619, [.77, .4, 1.2]),
    (1621, [.58, .85, .17]), (1623, [.62, .84, .38]), (1627, [.71, .44, .06]), (1631, [.64, .19, .91]),
    (1635, [.54, .77, .28]), (1639, [.69, .45, .1]), (1643, [.86, .36]), (1647, [.66, .3, .95]),
    (1651, [.71, .48]), (1655, [.8, .55, .13]), (1659, [.45, .68]),
    (1703, [.58, .31]), (1707, [.66, .14, .87]), (1711, [.59, .33]), (1715, [.78, .43, .09]),
    (1719, [.66, .35]), (1723, [.81, .55, .19]), (1727, [.63, .36, .93]), (1731, [.57, .12]),
    (1735, [.71, .39]),
]

chr13 = [
    (1766, [.12, .3, .51, .74]), (1768, [.2, .42, .63, .88]), (1770, [.08, .35, .56, .79]),
    (1772, [.16, .27, .47, .95]), (1774, [.1, .4, .61, .82]), (1776, [.22, .33, .52, .71]),
    (1778, [.06, .29, .45, .67, 1.02]), (1780, [.14, .38, .58, .8]), (1782, [.09, .24, .49, .73]),
    (1784, [.18, .36, .55, .92]), (1786, [.11, .3, .62, .84]), (1788, [.05, .26, .44, .7, 1.35]),
    (1790, [.15, .4, .57, 1.26]), (1792, [.08, .21, .5, .77]), (1794, [.19, .34, .63, .9]),
    (1796, [.12, .28, .46, .68]), (1798, [.07, .39, .6, .85]), (1800, [.16, .25, .53, .78]),
    (1802, [.1, .33, .47, 1.0]), (1804, [.21, .42, .66, .89]), (1806, [.06, .3, .55, 1.97]),
    (1808, [.14, .36, .72, 1.26, 1.97]), (1810, [.09, .24, .48, .86]), (1812, [.18, .4, .61]),
    (1814, [.11, .29, .52, .79]), (1816, [.07, .35, .64, 1.57]), (1818, [.15, .22, .45, 1.58]),
    (1820, [.1, .38, .56, .83]), (1822, [.19, .31, .7, 1.73]), (1824, [.05, .27, .5, 2.63]),
    (1826, [.13, .41, .62]), (1828, [.08, .23, .46]), (1830, [.16, .35]),
    (1852, [.09, .3, .5]), (1854, [.18, .62, 1.19]), (1856, [.05, .4, .81, 1.07]), (1858, [.13, .26, .55]),
    (1860, [.22, .7, .95, 1.38]), (1862, [.08, .35]), (1864, [.15, .48]), (1870, [1.4]),
    (1878, [.14, .33, 2.62]), (1880, [.07, .25, .5]), (1882, [.19, .41, .62]), (1884, [.1, .29]),
    (1886, [.04, .36, .55]), (1888, [.16, .23, .47]), (1890, [.09, .4, .68]), (1892, [.13, .31]),
    (1894, [.06, .27, .52]), (1896, [.18, .44, .6]), (1898, [.11, .2]), (1900, [.05, .34, .58]),
    (1902, [.15, .5, 1.18, 1.26]), (1904, [.08, .28, .63]), (1912, [.12, .37, .7, 2.19]),
    (1914, [.06, .24, .55, .88]), (1916, [.17, .43, .8, 1.09, 1.2]), (1918, [.09, .31, .62, .97]),
    (1920, [.14, .5, .74, 1.32, 1.5, 1.6, 1.66, 2.13, 2.19]), (1922, [.04, .27, .58, .9]),
    (1924, [.11, .4, .66]),
]

chr15 = [
    (1954, [.03, .22, .41, .63, .85]), (1956, [.12, .3, .52, .74, .97]),
    (1958, [.07, .18, .46, .68, .9, 1.12]), (1960, [.15, .36, .57, .8]),
    (1962, [.02, .26, .49, .71, .93, 1.52]), (1964, [.1, .33, .55, .78, 1.05]),
    (1966, [.05, .2, .43, .64, .87]), (1968, [.14, .39, .61, .82, 1.2]), (1970, [.08, .28, .47, .69, .91]),
    (1972, [.17, .35, .58, .76, 1.0]), (1974, [.01, .24, .44, .66, .88, 1.1]),
    (1976, [.11, .31, .53, .75, .96, 1.34]), (1978, [.06, .21, .4, .62, .84, 1.9]),
    (1980, [.16, .37, .6, .8, 1.03, 2.33]), (1982, [.04, .27, .5, .72, .95, 1.16]),
    (1984, [.13, .33, .54, .77, .99, 1.22]), (1986, [.08, .2, .43, .65, .88, 1.08, 1.3, 2.86]),
    (1988, [.18, .38, .58, .79, 1.01, 1.24, 1.44]), (1990, [.02, .25, .47, .68, .9, 1.12, 1.35]),
    (1992, [.1, .3, .52, .73, .96, 1.17, 1.3, 1.53, 1.77, 2.15, 2.41, 2.63, 3.19, 3.29, 3.49, 3.59]),
    (1994, [.05, .22, .44, .66, .87, 1.07, 1.26, 1.69, 2.1, 2.32, 2.51, 2.81, 3.16]),
    (1996, [.15, .35, .57, .78, 1.0, 1.21, 2.05, 2.78]), (1998, [.07, .28, .49, .7, .92, 1.14, 1.5]),
    (2000, [.12, .39, .6, .83, 1.04]), (2002, [.03, .24, .46, .69]), (2004, [.16, .34, .55, .8, .98]),
    (2006, [.09, .21, .48, .73]), (2008, [.13, .4, .62, .87, 1.06]), (2010, [.06, .29, .51, .75]),
    (2012, [.18, .36, .58, 1.39]), (2014, [.02, .23, .45, .68, .93]), (2016, [.11, .33, .55, .79]),
    (2018, [.07, .26, .5, .72, 1.0]), (2020, [.15, .38, .61, .85]), (2022, [.04, .22, .43, .66, .88, 1.3]),
    (2024, [.12, .32, .53, .75, .97, 1.13]), (2026, [.08, .19, .41, .62, .84, 1.05, 2.36]),
    (2028, [.17, .37, .58, .8, 1.02]), (2030, [.01, .25, .46, .68, .9, 1.15, 2.05]),
    (2032, [.1, .3, .52, .73, .95, 2.61]), (2034, [.05, .21, .44, .65, .87, 1.08, 2.26]),
    (2036, [.14, .35, .56, .78, 1.0, 1.87]), (2038, [.03, .27, .48, .7, .92, 1.12]),
    (2040, [.12, .2, .4, .61, .83, 1.04, 1.81]), (2042, [.07, .33, .54, .76, .98]),
    (2044, [.16, .24, .45, .67, .89, 1.1]), (2046, [.02, .36, .57, .8, 1.3, 1.99, 2.7]),
    (2048, [.11, .29, .5, .72, .94]), (2050, [.06, .22, .43, .64, .86, 1.5, 1.72]),
    (2052, [.15, .38, .59, .81, 1.03]), (2054, [.04, .26, .47, .7, .91]), (2056, [.13, .32, .53, .74]),
    (2058, [.08, .2, .44, .66, .88]), (2060, [.17, .36, .57, .79]), (2062, [.03, .25, .49, .72]),
    (2064, [.11, .34, .6]), (2066, [.06, .22, .45, 1.44]), (2068, [.15, .39, .63, 1.3]),
    (2070, [.09, .28, .52]), (2072, [.02, .2, .41, .7]), (2074, [.13, .35, .58]), (2076, [.07, .26, .47]),
    (2078, [.16, .4, .66]), (2080, [.04, .23, .51]), (2082, [.12, .31]), (2084, [.08, .44, 3.2]),
    (2086, [.14, .27, .6]),
    (1955, [.55, .32, .77]), (1957, [.62, .84, .08]), (1959, [.3, .57, .97]), (1961, [.71, .45, .12]),
    (1963, [.6, .82, .37]), (1965, [.53, .27, 1.0]), (1967, [.75, .08, .58]), (1969, [.48, .67, .3]),
    (1971, [.6, .84, .15]), (1973, [.5, .72, .94]), (1975, [.4, .83, .17]), (1977, [.59, .7, 1.12]),
    (1979, [.52, .29, .77]), (1981, [.69, .42, .1]), (1983, [.61, .85, .38]), (1985, [.56, .74, 1.15]),
    (1987, [.66, .34, .96]), (1989, [.5, .79, 1.2]), (1991, [.62, .41, .86]), (1993, [.85, .63, 1.41]),
    (1995, [.48, .92, 1.12]), (1997, [.68, .3, .85]), (1999, [.55, .81]), (2005, [.62, .39]),
    (2009, [.55, .28]), (2013, [.71, .47]), (2017, [.66, .18, .9]), (2021, [.54, .76]),
    (2023, [.61, .87, .28]), (2025, [.5, .7, .95]), (2027, [.66, .3, .88]), (2029, [.54, .79, .15]),
    (2031, [.63, .4, .85]), (2033, [.59, .77, .1]), (2035, [.48, .69, .97]), (2037, [.6, .82, .38]),
    (2039, [.55, .75, .14]), (2041, [.66, .92, .3]), (2043, [.49, .71, 1.09]), (2045, [.61, .79, .17]),
    (2047, [.56, .85, .3]), (2049, [.64, .4, .98]), (2051, [.53, .76, .11]), (2053, [.59, .82, .34]),
    (2055, [.65, .39]), (2057, [.6, .86, .29]), (2059, [.69, .47]), (2061, [.56, .12]),
]

chr17 = [
    (2088, [.04, .24, .45, .67, .89, 1.63]), (2090, [.12, .33, .55, .76, .98, 1.92, 2.64]),
    (2092, [.07, .2, .42, .63, .85, 1.06]), (2094, [.16, .37, .58, .8, 1.0, 1.25]),
    (2096, [.02, .27, .48, .7, .92]), (2098, [.1, .31, .52, .74, .95, 1.16]),
    (2100, [.06, .22, .44, .66, .88, 1.3]), (2102, [.14, .35, .57, .79, 1.02]),
    (2104, [.03, .26, .47, .69, .9, 1.12]), (2106, [.11, .3, .51, .73, 1.05, 1.4, 3.91]),
    (2108, [.05, .21, .43, .65, .87, 1.2, 1.93, 2.58]), (2110, [.15, .36, .56, .78, 1.0, 1.33, 1.55, 2.82]),
    (2112, [.08, .28, .49, .7, .93, 1.15, 1.46, 2.42]), (2114, [.17, .38, .6, .82, 1.08, 1.38, 2.12]),
    (2116, [.02, .23, .45, .67, .89, 1.12, 1.6]),
    (2118, [.12, .33, .54, .76, .97, 1.25, 1.72, 2.11, 3.01, 3.06, 3.51, 3.6]),
    (2120, [.06, .26, .47, .69, .91, 1.2]), (2122, [.15, .36, .58, .8, 1.3, 1.66, 2.58, 2.78]),
    (2124, [.04, .22, .44, .66, .9]), (2126, [.13, .32, .55, .77, 1.9]), (2128, [.08, .27, .5]),
    (2130, [.17, .4, .68]), (2132, [.02, .3, .58]), (2134, [.11, .45, .82]), (2136, [.06, .24, .63]),
    (2138, [.14, .36, 3.34]), (2140, [.09, .28, .52, .77]), (2142, [.03, .21, .42, .62, .83, 1.05]),
    (2143, [.12, .33, .54, .74, .96]), (2144, [.07, .18, .39, .6, .81, 1.02, 1.22, 1.74]),
    (2145, [.15, .28, .47, .68, .9, 1.1]), (2146, [.01, .23, .44, .64, .86, 1.07, 1.3]),
    (2147, [.1, .32, .52, .73, .94]), (2148, [.05, .19, .4, .61, .82, 1.04, 1.25, 1.93, 3.66]),
    (2149, [.14, .35, .56, .77, .99]), (2150, [.08, .26, .46, .67, .88, 1.09, 1.44]),
    (2151, [.17, .37, .58, .79, 1.0]), (2152, [.03, .21, .42, .63, .84, 1.06, 1.27]),
    (2153, [.12, .31, .51, .72, .93]), (2154, [.06, .24, .45, .66, .87, 1.08, 1.35]),
    (2155, [.16, .36, .57, .78, .98]), (2156, [.02, .2, .41, .62, .83, 1.03, 1.55]),
    (2157, [.1, .3, .5, .7, .91, 1.13]), (2158, [.05, .26, .47, .68, .89, 1.1, 1.98, 2.06]),
    (2159, [.14, .34, .55, .76, .96]), (2160, [.08, .22, .43, .64, .85, 1.04, 1.24]),
    (2162, [.18, .39, .6, .81, 1.0, 1.8]), (2164, [.04, .25, .46, .67, .88, 1.15, 2.12, 2.61, 2.99, 3.11]),
    (2166, [.13, .33, .54, .75, .95]), (2168, [.07, .2, .41, .62, .84, 1.05, 1.62]),
    (2170, [.16, .37, .58, .79, 1.0]), (2172, [.02, .28, .49, .7, .92]),
    (2174, [.11, .31, .52, .73, .94, 1.18]), (2176, [.06, .22, .43, .64, .86]),
    (2178, [.15, .36, .57, .78, 1.0]), (2180, [.03, .25, .46, .68, .9, 1.12]),
    (2182, [.12, .33, .54, .75, .96]), (2184, [.08, .2, .41, .63, .85]),
    (2186, [.17, .38, .59, .8, 1.02, 1.26]), (2188, [.01, .27, .48, .69, .9]),
    (2190, [.1, .3, .51, .72, .94, 1.7, 1.76, 1.8, 2.01]), (2192, [.05, .23, .44, .65, .86]),
    (2194, [.14, .35, .56, .77, .99, 1.2]), (2196, [.09, .28, .49, .7, .91]),
    (2198, [.02, .2, .42, .63, .84, 1.6]), (2200, [.13, .33, .54, .76, .97]),
    (2202, [.07, .26, .47, .68, .89, 1.1]), (2204, [.16, .37, .58, .79]),
    (2206, [.04, .22, .44, .66, .87, 1.3]), (2208, [.11, .3, .52, .73, .95]),
    (2210, [.06, .27, .48, .69, 1.05, 2.64, 2.9]), (2212, [.15, .36, .57, .79, 1.0]),
    (2214, [.03, .23, .45, .66, .88]), (2216, [.12, .32, .53, .74, .96, 1.16]),
    (2218, [.08, .2, .41, .62, .84]), (2220, [.17, .38, .6, .81, 1.02]),
    (2089, [.57, .3, .8]), (2091, [.68, .46, .13]), (2093, [.57, .77, .31]), (2095, [.6, .86, .12]),
    (2097, [.66, .38, .84]), (2099, [.55, .8, .2]), (2101, [.7, .49, .96]), (2103, [.58, .84, .14]),
    (2105, [.62, .4, .92]), (2107, [.55, .77, .3]), (2109, [.69, .94, .12]), (2111, [.6, .39, .84]),
    (2113, [.53, .75, 1.02]), (2115, [.66, .31, .92]), (2117, [.57, .82, .08]), (2119, [.62, .4, 1.04]),
    (2121, [.54, .79, .31]), (2123, [.61, .84, .12]), (2125, [.58, .39]),
    (2142, [.55, .9]), (2143, [.41, .86]), (2144, [.72, .29]), (2145, [.37, .79]), (2146, [.54, .95]),
    (2147, [.64, .17]), (2148, [.3, .75]), (2149, [.44, .89]), (2150, [.57, .35]), (2151, [.69, .09]),
    (2152, [.31, .76]), (2153, [.62, .41]), (2154, [.78, .33]), (2155, [.45, .88]), (2156, [.52, .3]),
    (2157, [.6, .81]), (2158, [.37, .78]), (2159, [.63, .43]), (2160, [.57, .32]),
    (2161, [.6, .34, .91]), (2163, [.52, .76, .13]), (2165, [.7, .41, .97]), (2167, [.58, .86, .29]),
    (2169, [.64, .46, .1]), (2171, [.55, .79, .35]), (2173, [.67, .4, .95]), (2175, [.57, .82, .14]),
    (2177, [.62, .47, .89]), (2179, [.53, .74, .32]), (2181, [.69, .42, .1]), (2183, [.59, .88, .36]),
    (2185, [.51, .7, .94]), (2187, [.65, .43, .17]), (2189, [.58, .81, .37]), (2191, [.68, .46, .97]),
    (2193, [.56, .77, .15]), (2195, [.61, .43, .86]), (2197, [.54, .75, .31]), (2199, [.66, .47, .93]),
    (2201, [.58, .8, .14]), (2203, [.63, .4, .9]), (2205, [.55, .77, .33]), (2207, [.69, .48, .12]),
    (2209, [.57, .84, .38]), (2211, [.62, .43, .91]), (2213, [.53, .76, .17]), (2215, [.67, .41, .86]),
    (2217, [.56, .79, .3]), (2219, [.64, .46, .95]), (2221, [.58, .83, .13]),
]

chr19 = [
    (2222, [.03, .19, .36, .54, .71, .9, 1.08, 1.27]), (2223, [.11, .28, .45, .63, .8, .99, 1.17]),
    (2224, [.06, .23, .4, .58, .76, .95, 1.13, 1.38, 2.53]), (2225, [.15, .32, .49, .67, .85, 1.03, 1.22]),
    (2226, [.01, .18, .35, .52, .7, .88, 1.06, 1.3, 2.78]), (2227, [.09, .26, .43, .61, .79, .97, 1.16]),
    (2228, [.14, .31, .48, .66, .84, 1.02, 1.24, 2.78]), (2229, [.04, .21, .38, .56, .74, .92, 1.1]),
    (2230, [.12, .29, .46, .64, .82, 1.0, 1.19, 1.45, 2.28, 3.74]),
    (2231, [.07, .24, .41, .59, .77, .95, 1.14]),
    (2232, [.16, .33, .5, .68, .86, 1.05, 1.33, 1.58, 2.46, 2.62, 3.67]),
    (2233, [.02, .2, .37, .55, .73, .91, 1.09, 1.28]),
    (2234, [.1, .27, .44, .62, .8, .98, 1.2, 1.7, 2.43]), (2235, [.05, .22, .39, .57, .75, .93, 1.12]),
    (2236, [.13, .3, .47, .65, .83, 1.01, 1.25, 1.5, 2.08, 2.19]),
    (2237, [.08, .25, .42, .6, .78, .96, 1.15]), (2238, [.17, .34, .51, .69, .87, 1.04, 1.35, 1.98]),
    (2240, [.03, .2, .37, .54, .72, .9, 1.09, 1.29]), (2241, [.11, .28, .46, .63, .81, 1.0, 1.2]),
    (2242, [.06, .24, .41, .59, .77, .95, 1.14, 1.42]), (2244, [.14, .31, .49, .66, .84, 1.03, 1.23]),
    (2245, [.01, .18, .36, .53, .71, .89, 1.08]), (2246, [.09, .27, .44, .62, .8, .98, 1.18, 1.55]),
    (2248, [.15, .32, .5, .67, .85, 1.05, 1.76, 1.8]), (2249, [.04, .22, .39, .57, .74, .93, 1.12]),
    (2250, [.12, .29, .47, .65, .83, 1.01, 1.3]), (2252, [.07, .25, .42, .6, .78, .97, 1.16]),
    (2254, [.16, .34, .52, .7, .88, 1.06, 1.38, 2.4]), (2255, [.02, .19, .37, .55, .73, .91]),
    (2256, [.1, .28, .45, .63, .81, 1.0, 1.2, 1.6]), (2258, [.05, .23, .4, .58, .76, .94, 1.13]),
    (2260, [.13, .31, .48, .66, .84, 1.02]), (2262, [.08, .26, .43, .61, .79]), (2266, [.17, .35, .55]),
    (2270, [.04, .3]), (2274, [.11, .27, .46, .64, .82]),
    (2276, [.06, .22, .4, .58, .76, .95, 1.14, 1.61]), (2277, [.14, .31, .49, .67, .85, 1.04]),
    (2278, [.01, .18, .36, .54, .72, .9, 1.09, 1.3, 2.1]), (2279, [.09, .26, .44, .62, .8, .98, 1.18]),
    (2280, [.15, .32, .5, .68, .86, 1.05, 1.25, 2.72]), (2281, [.04, .21, .39, .57, .75, .93, 1.12]),
    (2282, [.12, .29, .47, .65, .83, 1.01, 1.2, 1.51]), (2283, [.07, .24, .42, .6, .78, .96, 1.15]),
    (2284, [.16, .33, .51, .69, .87, 1.06, 1.27]), (2286, [.02, .2, .37, .55, .73, .91, 1.1, 1.4]),
    (2287, [.1, .28, .45, .63, .81, .99]), (2288, [.05, .23, .4, .58, .76, .95, 1.14, 1.94, 2.93]),
    (2289, [.13, .3, .48, .66, .84, 1.03]), (2290, [.08, .25, .43, .61, .79, .97, 1.17, 1.36]),
    (2292, [.17, .34, .52, .7, .88, 1.07, 1.26]), (2293, [.03, .19, .37, .55, .73, .92]),
    (2294, [.11, .27, .45, .63, .82, 1.0, 1.19, 1.45]), (2296, [.06, .22, .4, .58, .77, .96, 1.15, 1.8, 2.17]),
    (2297, [.14, .31, .49, .67, .86, 1.05]), (2298, [.01, .18, .36, .54, .72, .91, 1.1, 1.3]),
    (2300, [.09, .26, .44, .62, .8, .99, 1.2]), (2301, [.15, .33, .51, .69, .87, 1.06]),
    (2302, [.04, .21, .39, .57, .75, .94, 1.13, 1.35]), (2304, [.12, .29, .47, .65, .83, 1.02, 1.22, 2.01]),
    (2305, [.07, .24, .42, .6, .78, .97]), (2306, [.16, .34, .52, .7, .88, 1.07, 1.28]),
    (2308, [.02, .2, .38, .56, .74, .93, 1.12, 1.69, 2.19, 2.7]), (2309, [.1, .27, .45, .63, .81, 1.0]),
    (2310, [.05, .23, .41, .59, .77, .96, 1.16, 1.4]), (2312, [.13, .31, .49, .67, .85, 1.04, 1.55]),
    (2313, [.08, .25, .43, .61, .79, .98]), (2314, [.17, .35, .53, .71, .89, 1.08, 1.9, 2.0, 2.25]),
    (2316, [.03, .21, .39, .57, .75, .94, 1.13]), (2317, [.11, .28, .46, .64, .82, 1.01]),
    (2318, [.06, .24, .42, .6, .78, .97, 1.18, 2.52]), (2320, [.14, .32, .5, .68, .86]),
    (2222, [.47, .81]), (2224, [.3, .66]), (2226, [.6, .96]), (2228, [.4, .75]), (2230, [.55, .21]),
    (2232, [.42, .93]), (2234, [.35, .7]), (2236, [.57, .88]), (2238, [.44, .76, .05]),
    (2239, [.6, .27, .94, 1.1]), (2240, [.46, .8]), (2242, [.33, .68]), (2243, [.5, .15, .86, 1.2]),
    (2244, [.58, .92]), (2246, [.36, .71]), (2247, [.61, .22, .97, 1.1]), (2248, [.41, .77]),
    (2250, [.55, .9]), (2251, [.38, .03, .73, 1.05]), (2252, [.5, .85]), (2253, [.64, .29, .99, 1.25]),
    (2254, [.44, .79]), (2256, [.37, .72]), (2257, [.53, .18, .88, 1.09]), (2258, [.48, .83]),
    (2259, [.64, .31, .99]), (2260, [.41, .75]), (2261, [.56, .2, .93]),
    (2275, [.52, .16, .87]), (2276, [.49, .85]), (2278, [.45, .81]), (2280, [.41, .77]), (2282, [.57, .92]),
    (2284, [.43, .79]), (2285, [.62, .27, .98, 1.17]), (2286, [.46, .82]), (2288, [.49, .86]),
    (2290, [.53, .89]), (2291, [.4, .05, .75, 1.1]), (2292, [.44, .8]), (2294, [.54, .91]),
    (2295, [.36, .69, 1.02]), (2296, [.49, .84]), (2298, [.45, .81]), (2299, [.6, .24, .95]),
    (2300, [.53, .89]), (2302, [.48, .84]), (2303, [.58, .3, .95, 1.15]), (2304, [.38, .74]),
    (2306, [.44, .79]), (2307, [.61, .27, .97]), (2308, [.47, .84]), (2310, [.5, .87]),
    (2311, [.35, .7, 1.06]), (2312, [.58, .94]), (2314, [.44, .8]), (2315, [.62, .29, .98]),
    (2316, [.48, .85]), (2318, [.51, .88]), (2319, [.36, .72, 1.09]), (2320, [.41, .77, .03]),
]

chr21 = [
    (2336, [.12, .38, .66]), (2338, [.05, .25, 1.6]), (2340, [.18, .5, .82]), (2342, [.09, .31]),
    (2344, [.14, .44, .7]), (2346, [.03, .27, 1.51]), (2348, [.2, .57, .9]), (2350, [.08, .35, 1.2, 1.25]),
    (2352, [.15, .46, .63]), (2354, [.04, .29]), (2356, [.11, .4, .76]), (2358, [.19, .52]),
    (2360, [.07, .33, .6]), (2362, [.02, .13, .24, .37, .55]), (2364, [.09, .2, .31, .48, .7]),
    (2366, [.05, .16, .28, .42, .61, 1.07]), (2368, [.12, .23, .35, .5, .79]),
    (2370, [.03, .14, .26, .39, .58, .86]), (2372, [.08, .19, .3, .45, .67, 1.04, 2.06]),
    (2374, [.01, .11, .22, .34, .49, .73]), (2376, [.06, .17, .28, .41, .6, .98]),
    (2378, [.1, .21, .33, .47, .69, .9]), (2380, [.04, .15, .26, .38, .54, 1.19, 1.42]),
    (2382, [.09, .2, .31, .44, .63, .82]), (2384, [.02, .13, .24, .36, .52, .75]),
    (2386, [.07, .18, .29, .42, .59, .95]), (2388, [.11, .22, .34, .48, .7, 1.2]),
    (2390, [.03, .14, .25, .37, .55, .8]), (2392, [.08, .19, .3, .43, .62, 1.67]),
    (2394, [.05, .16, .27, .4, .57, 1.13, 1.34]), (2396, [.1, .21, .33, .46, .66]),
    (2398, [.02, .12, .23, .35, .5, 1.64]), (2400, [.07, .18, .29, .44, .6]),
    (2363, [.45, .08, .66]), (2365, [.36, .53]), (2367, [.71, .19, .46]), (2369, [.3, .62]),
    (2371, [.51, .05, .75]), (2373, [.4, .58]), (2375, [.66, .25, .09]), (2377, [.52, .8]),
    (2379, [.36, .12, .61]), (2381, [.49, .72]), (2383, [.27, .58, .07]), (2385, [.45, .66]),
    (2387, [.56, .15, .33]), (2389, [.71, .47]), (2391, [.38, .1, .59]), (2393, [.5, .26]),
    (2395, [.68, .4, .14]), (2397, [.57, .3]), (2399, [.45, .08]),
]

# Annotated top hits
gene_names = ["FBLIM1", "INO80", "DNAH9", "CDRT4", "FAM18B2", "CDRT1", "SCO1",
              "HS3ST3B1", "TRIM16", "CCL18", "C17orf48"]
gene_chr = ["Chr1", "Chr15", "Chr17", "Chr17", "Chr17", "Chr17", "Chr17",
            "Chr17", "Chr17", "Chr17", "Chr17"]
gene_pos = [32, 1994, 2115, 2118, 2118, 2118, 2110, 2116, 2118, 2150, 2110]
gene_logp = [3.97, 4.17, 5.79, 4.92, 4.93, 4.80, 4.72, 4.49, 4.44, 4.41, 4.08]

suggestive_line = 4.0
genomewide_line = 5.3

series = [("Chr1", chr1), ("Chr3", chr3), ("Chr5", chr5), ("Chr7", chr7), ("Chr9", chr9),
          ("Chr11", chr11), ("Chr13", chr13), ("Chr15", chr15), ("Chr17", chr17),
          ("Chr19", chr19), ("Chr21", chr21)]

colors = {"Chr1": "#FF5555", "Chr3": "#5555FF", "Chr5": "#FF55FF", "Chr7": "#FFAFAF",
          "Chr9": "#808080", "Chr11": "#C00000", "Chr13": "#0000C0", "Chr15": "#00C000",
          "Chr17": "#C0C000", "Chr19": "#C000C0", "Chr21": "#00C0C0"}

# label placement relative to each hit, in pixels: (xanchor, xshift, yshift)
label_style = {
    "FBLIM1": ("left", -16, 13), "INO80": ("right", -10, 2), "DNAH9": ("left", 16, 0),
    "CDRT4": ("left", 15, 2), "FAM18B2": ("left", 78, 0), "CDRT1": ("right", -12, 2),
    "SCO1": ("left", 7, -4), "HS3ST3B1": ("right", -38, 5), "TRIM16": ("right", 2, -9),
    "CCL18": ("left", 10, 1), "C17orf48": ("left", 8, 0),
}
marker_size = {"DNAH9": 7}


def flatten(cols):
    xs, ys = [], []
    for pos, vals in cols:
        for v in vals:
            xs.append(pos)
            ys.append(v)
    return xs, ys


fig = go.Figure()

for name, cols in series:
    xs, ys = flatten(cols)
    fig.add_trace(go.Scatter(
        x=xs, y=ys, mode="markers", name=name, showlegend=False,
        marker=dict(symbol="square", size=3, color=colors[name], line=dict(width=0)),
        hoverinfo="skip",
    ))

for g, c, x, y in zip(gene_names, gene_chr, gene_pos, gene_logp):
    fig.add_trace(go.Scatter(
        x=[x], y=[y], mode="markers", showlegend=False,
        marker=dict(symbol="square", size=marker_size.get(g, 5), color=colors[c], line=dict(width=0)),
        hoverinfo="skip",
    ))
    anchor, dx, dy = label_style[g]
    fig.add_annotation(
        x=x, y=y, text=f"<b><i>{g}</i></b>", showarrow=False,
        xanchor=anchor, yanchor="middle", xshift=dx, yshift=dy,
        font=dict(family="Liberation Serif", size=18, color="#000000"),
    )

# legend swatches
for name, _ in series:
    fig.add_trace(go.Scatter(
        x=[None], y=[None], mode="lines", name=name,
        line=dict(color=colors[name], width=7),
    ))

fig.add_hline(y=genomewide_line, line=dict(color="#FF4040", width=2))
fig.add_hline(y=suggestive_line, line=dict(color="#4848FF", width=2))

fig.update_layout(
    width=1316, height=620,
    margin=dict(l=69, r=0, t=5, b=41),
    paper_bgcolor="#FFFFFF", plot_bgcolor="#FFFFFF",
    font=dict(family="Liberation Sans, Arial, sans-serif", color="#333333"),
    xaxis=dict(range=[-1, 2493], showgrid=False, zeroline=False, showticklabels=False,
               ticks="", showline=True, linecolor="#A8A8A8", linewidth=2, mirror=True),
    yaxis=dict(range=[0, 6.13], dtick=0.5, tick0=0, tickformat=".1f",
               showgrid=True, gridcolor="#C4C4C4", gridwidth=1, griddash="dot",
               zeroline=False, showline=True, linecolor="#A8A8A8", linewidth=2,
               ticks="outside", ticklen=3, tickcolor="#A8A8A8",
               tickfont=dict(size=16, color="#444444"),
               title=dict(text="<b>-log10(P)</b>", standoff=10,
                          font=dict(family="DejaVu Sans", size=16, color="#111111"))),
    legend=dict(orientation="h", xref="container", yref="container",
                x=0.508, xanchor="center", y=0.027, yanchor="middle",
                bgcolor="#FFFFFF", bordercolor="#555555", borderwidth=1,
                font=dict(size=15, color="#111111"), itemclick=False),
)

fig.write_html("out.html")
